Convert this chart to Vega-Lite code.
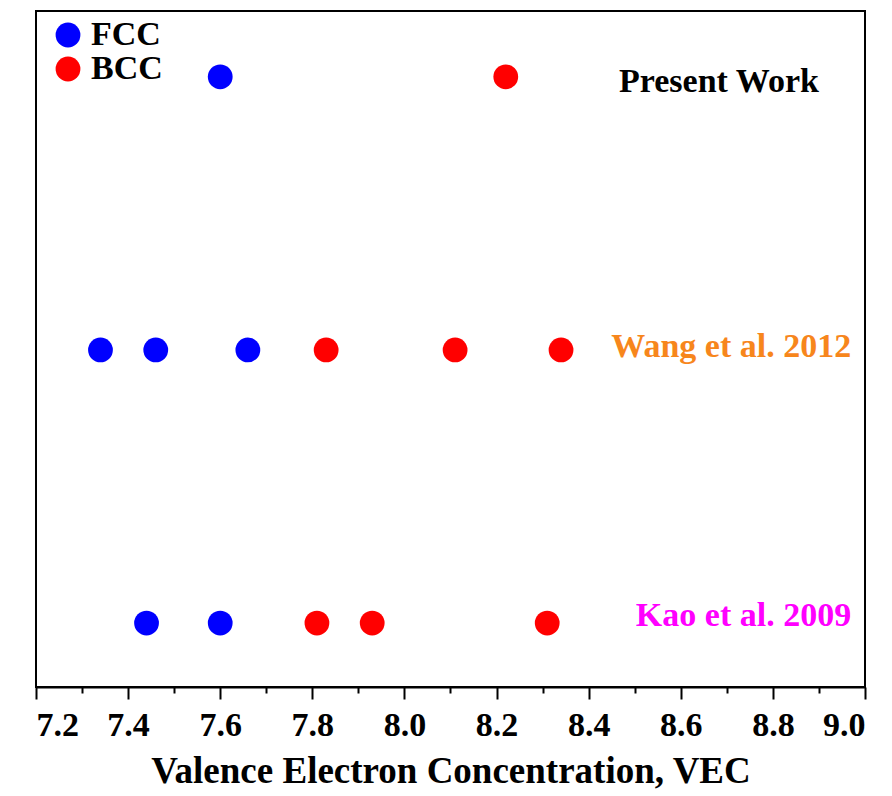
{
  "$schema": "https://vega.github.io/schema/vega-lite/v6.json",
  "width": 829,
  "height": 676,
  "autosize": {"type": "none"},
  "padding": {"left": 36, "top": 11, "right": 27, "bottom": 109},
  "background": "white",
  "config": {
    "view": {"stroke": "black", "strokeWidth": 2},
    "font": "Liberation Serif"
  },
  "datasets": {
    "points": [
      {"study": "Present Work", "row": 2, "phase": "FCC", "vec": 7.60},
      {"study": "Present Work", "row": 2, "phase": "BCC", "vec": 8.22},
      {"study": "Wang et al. 2012", "row": 1, "phase": "FCC", "vec": 7.34},
      {"study": "Wang et al. 2012", "row": 1, "phase": "FCC", "vec": 7.46},
      {"study": "Wang et al. 2012", "row": 1, "phase": "FCC", "vec": 7.66},
      {"study": "Wang et al. 2012", "row": 1, "phase": "BCC", "vec": 7.83},
      {"study": "Wang et al. 2012", "row": 1, "phase": "BCC", "vec": 8.11},
      {"study": "Wang et al. 2012", "row": 1, "phase": "BCC", "vec": 8.34},
      {"study": "Kao et al. 2009", "row": 0, "phase": "FCC", "vec": 7.44},
      {"study": "Kao et al. 2009", "row": 0, "phase": "FCC", "vec": 7.60},
      {"study": "Kao et al. 2009", "row": 0, "phase": "BCC", "vec": 7.81},
      {"study": "Kao et al. 2009", "row": 0, "phase": "BCC", "vec": 7.93},
      {"study": "Kao et al. 2009", "row": 0, "phase": "BCC", "vec": 8.31}
    ],
    "labels": [
      {"label": "Present Work", "vec": 8.90, "row": 1.945},
      {"label": "Wang et al. 2012", "vec": 8.97, "row": 0.975},
      {"label": "Kao et al. 2009", "vec": 8.97, "row": -0.01}
    ]
  },
  "resolve": {"axis": {"x": "independent"}, "scale": {"color": "independent"}},
  "layer": [
    {
      "data": {"name": "points"},
      "mark": {"type": "circle", "opacity": 1, "size": 615},
      "encoding": {
        "x": {
          "field": "vec",
          "type": "quantitative",
          "scale": {"domain": [7.2, 9.0], "nice": false, "zero": false},
          "axis": {
            "orient": "bottom",
            "values": [7.2, 7.4, 7.6, 7.8, 8.0, 8.2, 8.4, 8.6, 8.8, 9.0],
            "format": ".1f",
            "grid": false,
            "domainColor": "black",
            "domainWidth": 2,
            "tickColor": "black",
            "tickWidth": 2,
            "tickSize": 12,
            "labelFont": "Liberation Serif",
            "labelFontWeight": "bold",
            "labelFontSize": 34,
            "labelColor": "black",
            "labelPadding": 9,
            "labelOverlap": false,
            "title": "Valence Electron Concentration, VEC",
            "titleFont": "Liberation Serif",
            "titleFontWeight": "bold",
            "titleFontSize": 37,
            "titleColor": "black",
            "titlePadding": 11
          }
        },
        "y": {
          "field": "row",
          "type": "quantitative",
          "scale": {"domain": [-0.234, 2.241], "nice": false, "zero": false},
          "axis": null
        },
        "color": {
          "field": "phase",
          "type": "nominal",
          "scale": {"domain": ["FCC", "BCC"], "range": ["#0000ff", "#ff0000"]},
          "legend": {
            "title": null,
            "orient": "none",
            "legendX": 15,
            "legendY": 7,
            "symbolType": "circle",
            "symbolSize": 615,
            "symbolOpacity": 1,
            "symbolStrokeWidth": 0,
            "labelFont": "Liberation Serif",
            "labelFontWeight": "bold",
            "labelFontSize": 34,
            "labelColor": "black",
            "labelOffset": 6,
            "rowPadding": 0,
            "padding": 0
          }
        }
      }
    },
    {
      "data": {"name": "points"},
      "mark": {"type": "tick", "opacity": 0},
      "encoding": {
        "x": {
          "field": "vec",
          "type": "quantitative",
          "axis": {
            "orient": "bottom",
            "values": [7.3, 7.5, 7.7, 7.9, 8.1, 8.3, 8.5, 8.7, 8.9],
            "labels": false,
            "domain": false,
            "grid": false,
            "tickColor": "black",
            "tickWidth": 2,
            "tickSize": 6,
            "title": null
          }
        }
      }
    },
    {
      "data": {"name": "labels"},
      "mark": {
        "type": "text",
        "align": "right",
        "baseline": "alphabetic",
        "font": "Liberation Serif",
        "fontWeight": "bold",
        "fontSize": 34
      },
      "encoding": {
        "x": {"field": "vec", "type": "quantitative", "axis": null},
        "y": {"field": "row", "type": "quantitative"},
        "text": {"field": "label"},
        "color": {
          "field": "label",
          "type": "nominal",
          "scale": {
            "domain": ["Present Work", "Wang et al. 2012", "Kao et al. 2009"],
            "range": ["#000000", "#f7861c", "#ff00ff"]
          },
          "legend": null
        }
      }
    }
  ]
}
